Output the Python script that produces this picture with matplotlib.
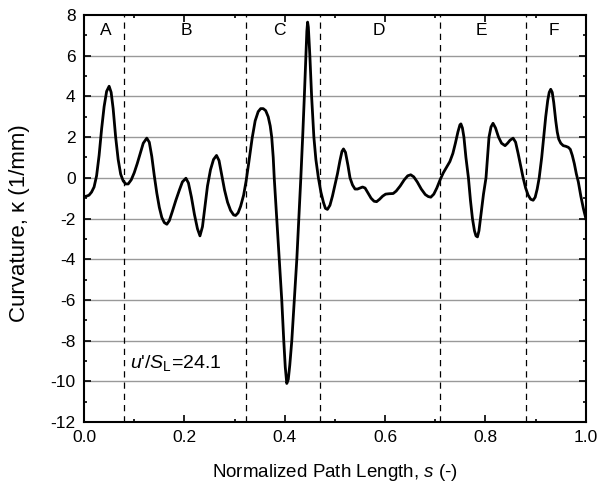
import matplotlib
matplotlib.use("Agg")
import matplotlib.pyplot as plt
from matplotlib.ticker import MultipleLocator, FormatStrFormatter

plt.rcParams['font.family'] = ['Liberation Sans', 'DejaVu Sans']
plt.rcParams['mathtext.fontset'] = 'custom'
plt.rcParams['mathtext.rm'] = 'Liberation Sans'
plt.rcParams['mathtext.it'] = 'Liberation Sans:italic'
plt.rcParams['axes.unicode_minus'] = False

# curvature along normalized path
s = [0.000, 0.005, 0.010, 0.015, 0.020, 0.025, 0.030, 0.035, 0.040, 0.045,
     0.050, 0.054, 0.058, 0.063, 0.068, 0.073, 0.078, 0.083, 0.088, 0.094,
     0.100, 0.106, 0.112, 0.118, 0.125, 0.130, 0.135, 0.140, 0.145, 0.150,
     0.155, 0.160, 0.165, 0.170, 0.176, 0.183, 0.190, 0.196, 0.203, 0.208,
     0.214, 0.220, 0.226, 0.231, 0.236, 0.241, 0.246, 0.252, 0.258, 0.264,
     0.269, 0.274, 0.280, 0.286, 0.292, 0.298, 0.302, 0.307, 0.312, 0.318,
     0.323, 0.328, 0.335, 0.341, 0.347, 0.352, 0.357, 0.362, 0.367, 0.371,
     0.374, 0.377, 0.379, 0.384, 0.389, 0.394, 0.398, 0.401, 0.404, 0.407,
     0.410, 0.414, 0.419, 0.424, 0.428, 0.432, 0.436, 0.439, 0.442, 0.444,
     0.4455, 0.447, 0.450, 0.4535, 0.458, 0.462, 0.467, 0.472, 0.477, 0.481,
     0.485, 0.490, 0.495, 0.500, 0.505, 0.510, 0.514, 0.517, 0.521, 0.526,
     0.530, 0.535, 0.540, 0.545, 0.550, 0.555, 0.560, 0.566, 0.572, 0.578,
     0.583, 0.589, 0.595, 0.601, 0.608, 0.616, 0.622, 0.630, 0.638, 0.645,
     0.651, 0.657, 0.664, 0.672, 0.680, 0.686, 0.691, 0.697, 0.703, 0.710,
     0.716, 0.722, 0.729, 0.735, 0.740, 0.745, 0.749, 0.751, 0.754, 0.757,
     0.761, 0.766, 0.770, 0.774, 0.778, 0.781, 0.784, 0.787, 0.791, 0.796,
     0.801, 0.807, 0.811, 0.815, 0.820, 0.826, 0.832, 0.839, 0.844, 0.849,
     0.855, 0.860, 0.865, 0.870, 0.875, 0.880, 0.885, 0.890, 0.895, 0.899,
     0.903, 0.907, 0.912, 0.916, 0.920, 0.924, 0.927, 0.930, 0.933, 0.936,
     0.940, 0.943, 0.946, 0.950, 0.955, 0.960, 0.965, 0.969, 0.973, 0.977,
     0.981, 0.985, 0.990, 0.995, 1.000]
kappa = [-0.92, -0.90, -0.85, -0.70, -0.45, 0.10, 1.10, 2.40, 3.50, 4.25,
         4.50, 4.20, 3.40, 2.00, 0.90, 0.18, -0.15, -0.30, -0.30, -0.10,
         0.25, 0.70, 1.20, 1.70, 1.95, 1.75, 1.05, 0.10, -0.75, -1.45,
         -1.95, -2.20, -2.28, -2.10, -1.65, -1.10, -0.60, -0.20, -0.02, -0.25,
         -0.95, -1.80, -2.50, -2.85, -2.40, -1.40, -0.40, 0.40, 0.90, 1.10,
         0.85, 0.20, -0.60, -1.20, -1.60, -1.82, -1.85, -1.72, -1.40, -0.85,
         -0.15, 0.70, 1.95, 2.80, 3.25, 3.40, 3.40, 3.30, 3.00, 2.55,
         2.00, 1.00, 0.00, -2.00, -4.00, -6.00, -8.00, -9.30, -10.10, -9.90,
         -9.20, -8.00, -6.00, -4.00, -2.00, 0.00, 2.20, 4.00, 6.00, 7.20,
         7.65, 7.40, 6.00, 4.00, 2.00, 0.90, 0.00, -0.70, -1.20, -1.50,
         -1.55, -1.35, -0.90, -0.35, 0.20, 0.85, 1.30, 1.42, 1.25, 0.60,
         0.00, -0.35, -0.55, -0.55, -0.50, -0.45, -0.50, -0.75, -1.00, -1.15,
         -1.17, -1.05, -0.90, -0.80, -0.78, -0.77, -0.65, -0.40, -0.10, 0.10,
         0.15, 0.05, -0.20, -0.55, -0.82, -0.92, -0.95, -0.80, -0.50, -0.07,
         0.25, 0.50, 0.80, 1.20, 1.70, 2.25, 2.60, 2.65, 2.45, 2.00,
         1.00, 0.00, -1.10, -2.00, -2.60, -2.85, -2.90, -2.60, -1.80, -0.80,
         0.00, 2.00, 2.50, 2.68, 2.45, 2.00, 1.70, 1.58, 1.70, 1.85,
         1.95, 1.75, 1.20, 0.60, 0.00, -0.50, -0.85, -1.05, -1.10, -0.95,
         -0.55, 0.00, 1.00, 2.00, 3.00, 3.80, 4.20, 4.35, 4.20, 3.70,
         2.80, 2.25, 1.90, 1.70, 1.58, 1.55, 1.50, 1.40, 1.10, 0.70,
         0.20, -0.20, -0.90, -1.50, -2.00]

# region boundaries and labels
bounds = [0.08, 0.323, 0.47, 0.71, 0.88]
regions = ['A', 'B', 'C', 'D', 'E', 'F']
region_x = [0.043, 0.203, 0.39, 0.588, 0.791, 0.936]

fig = plt.figure(figsize=(6.09, 4.83), dpi=100)
ax = fig.add_axes([0.138, 0.126, 0.824, 0.843])

for yg in range(-10, 8, 2):
    ax.axhline(yg, color='#999999', lw=1.0, zorder=1)
for b in bounds:
    ax.axvline(b, color='black', lw=0.9, ls=(0, (5, 4)), zorder=2)

ax.plot(s, kappa, color='black', lw=2.0, zorder=3)

for lab, xl in zip(regions, region_x):
    ax.text(xl, 7.25, lab, ha='center', va='center', fontsize=12.5)

ax.text(0.092, -9.1, r"$u$'/$S_\mathrm{L}$=24.1", ha='left', va='center',
        fontsize=14)

ax.set_xlim(0, 1.0)
ax.set_ylim(-12, 8)
ax.xaxis.set_major_locator(MultipleLocator(0.2))
ax.xaxis.set_minor_locator(MultipleLocator(0.1))
ax.xaxis.set_major_formatter(FormatStrFormatter('%.1f'))
ax.yaxis.set_major_locator(MultipleLocator(2))
ax.yaxis.set_minor_locator(MultipleLocator(1))
ax.tick_params(which='both', direction='in', top=True, right=True,
               width=1.2, labelsize=12.5)
ax.tick_params(which='major', length=5, pad=6)
ax.tick_params(which='minor', length=2.5)
for sp in ax.spines.values():
    sp.set_linewidth(1.5)

ax.set_xlabel('Normalized Path Length, $s$ (-)', fontsize=13.5)
ax.set_ylabel('Curvature, κ (1/mm)', fontsize=16)
ax.xaxis.set_label_coords(0.5, -0.098)
ax.yaxis.set_label_coords(-0.107, 0.49)

fig.savefig('out.png', dpi=100)
